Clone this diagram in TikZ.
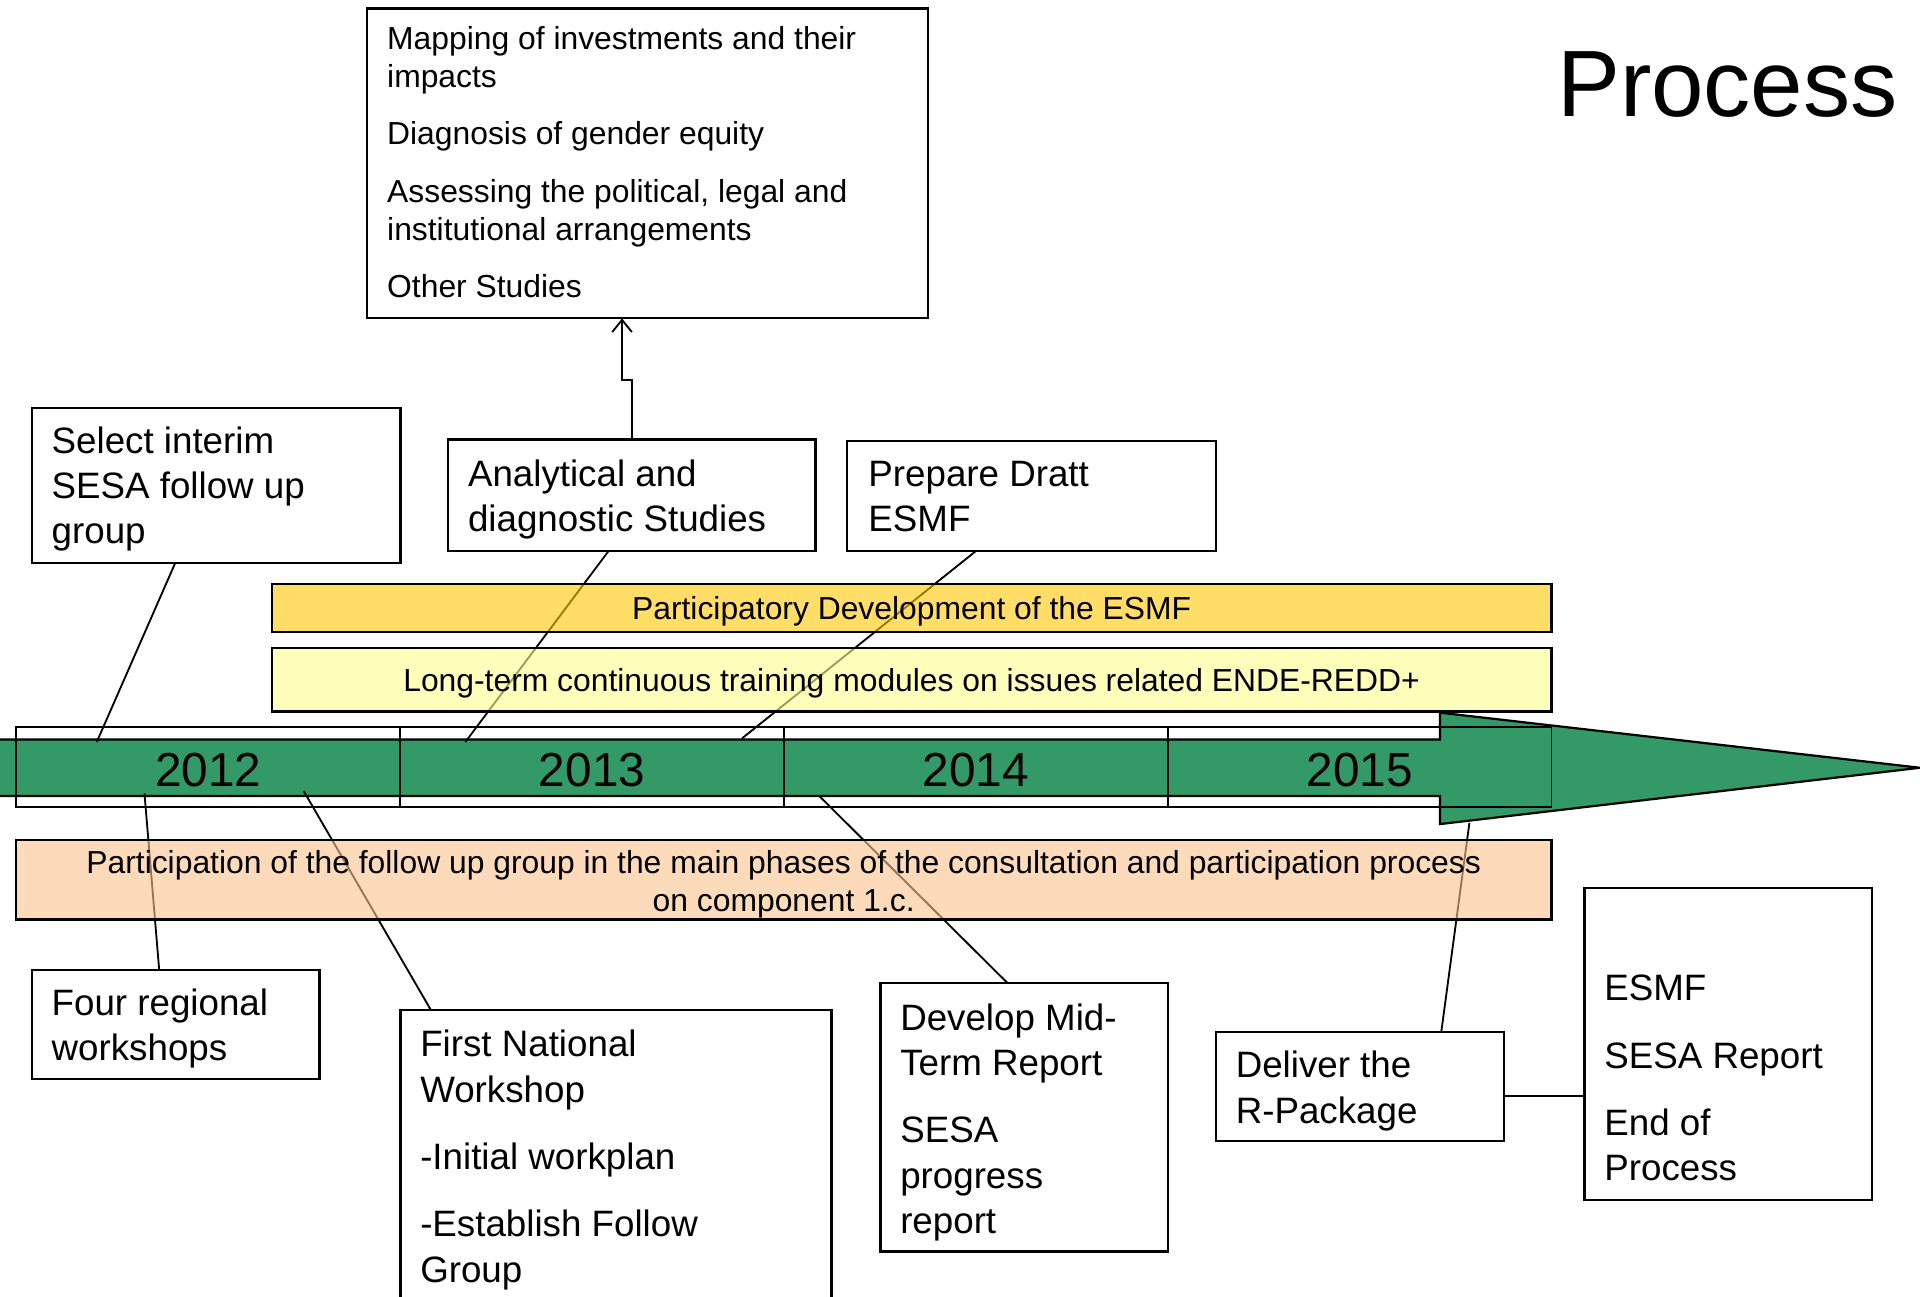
\documentclass[tikz,border=0pt]{standalone}
\usepackage{fontspec}
\setmainfont{Liberation Sans}
\usetikzlibrary{arrows.meta,calc}
\definecolor{arrowgreen}{RGB}{51,153,102}
\definecolor{barGold}{RGB}{255,198,0}
\definecolor{barYellow}{RGB}{255,255,142}
\definecolor{barPeach}{RGB}{251,193,138}
\begin{document}
\begin{tikzpicture}[x=1pt,y=-1pt,
  box/.style={draw=black, line width=1.8pt, fill=white, inner sep=0pt, outer sep=0pt, anchor=north west},
  bar/.style={draw=black, line width=1.8pt, fill opacity=0.6, draw opacity=1, inner sep=0pt, outer sep=0pt, anchor=north west},
  txtA/.style={inner sep=0pt, anchor=north west, align=left, font=\fontsize{30}{37}\selectfont},
  txtB/.style={inner sep=0pt, anchor=north west, align=left, font=\fontsize{26}{31}\selectfont},
  bartxt/.style={inner sep=0pt, anchor=base, align=center, font=\fontsize{26}{31}\selectfont},
  yeartxt/.style={inner sep=0pt, anchor=base, font=\fontsize{39}{45}\selectfont},
  yearbox/.style={draw=black, line width=1.5pt, inner sep=0pt, outer sep=0pt, anchor=north west, minimum height=65pt},
  conn/.style={draw=black, line width=1.5pt}]
\useasboundingbox (0,0) rectangle (1568,1059);
\clip (0,0) rectangle (1568,1059);

% title
\node[inner sep=0pt, anchor=base east, font=\fontsize{77}{90}\selectfont] (title) at (1550,95) {Process};

% green timeline arrow
\draw[fill=arrowgreen, draw=black, line width=1.8pt]
  (-5,604) -- (1176,604) -- (1176,582) -- (1568,627) -- (1176,673) -- (1176,650) -- (-5,650) -- cycle;
\node[yearbox, minimum width=314pt] (y12) at (13,594) {};
\node[yearbox, minimum width=313pt] (y13) at (327,594) {};
\node[yearbox, minimum width=314pt] (y14) at (640,594) {};
\node[yearbox, minimum width=313pt] (y15) at (954,594) {};
\node[yeartxt] (t12) at (170,642) {2012};
\node[yeartxt] (t13) at (483.5,642) {2013};
\node[yeartxt] (t14) at (797,642) {2014};
\node[yeartxt] (t15) at (1110.5,642) {2015};

% anchor points on the timeline
\coordinate (p1) at (79,606);
\coordinate (p2) at (380,606);
\coordinate (p3) at (606,603);
\coordinate (q1) at (118,648);
\coordinate (q2) at (248,646);
\coordinate (q3) at (669,650);
\coordinate (q4) at (1200,672);

% boxes
\node[box, minimum width=458pt, minimum height=253pt] (mapbox) at (300,7) {};
\node[box, minimum width=301pt, minimum height=127pt] (sel) at (26,333) {};
\node[box, minimum width=300pt, minimum height=91pt] (ana) at (366,359) {};
\node[box, minimum width=301pt, minimum height=90pt] (prep) at (692,360) {};
\node[box, minimum width=235pt, minimum height=89pt] (four) at (26,792) {};
\node[box, minimum width=352pt, minimum height=260pt] (first) at (327,825) {};
\node[box, minimum width=235pt, minimum height=219pt] (dev) at (719,803) {};
\node[box, minimum width=235pt, minimum height=89pt] (deliv) at (993,843) {};
\node[box, minimum width=235pt, minimum height=255pt] (esmf) at (1294,725) {};

% texts
\node[txtB] (mapt) at (316,18.3) {\strut Mapping of investments and their\\impacts\\[16pt]Diagnosis of gender equity\\[16pt]Assessing the political, legal and\\institutional arrangements\\[16pt]Other Studies};
\node[txtA] (selt) at (42,344.1) {\strut Select interim\\SESA follow up\\group};
\node[txtA] (anat) at (382,371.1) {\strut Analytical and\\diagnostic Studies};
\node[txtA] (prept) at (709,371.1) {\strut Prepare Dratt\\ESMF};
\node[txtA] (fourt) at (42,803.1) {\strut Four regional\\workshops};
\node[txtA] (firstt) at (343,837.1) {\strut First National\\Workshop\\[18pt]-Initial workplan\\[18pt]-Establish Follow\\Group};
\node[txtA] (devt) at (735,815.1) {\strut Develop Mid-\\Term Report\\[18pt]SESA\\progress\\report};
\node[txtA] (delivt) at (1009,854.1) {\strut Deliver the\\R-Package};
\node[txtA] (esmft) at (1310,791.1) {\strut ESMF\\[18pt]SESA Report\\[18pt]End of\\Process};

% connectors
\draw[conn] ($(sel.south west)+(117,0)$) -- (p1);
\draw[conn] ($(ana.south west)+(131,0)$) -- (p2);
\draw[conn] ($(prep.south west)+(105,0)$) -- (p3);
\draw[conn] (q1) -- ($(four.north west)+(104,0)$);
\draw[conn] (q2) -- ($(first.north west)+(25,0)$);
\draw[conn] (q3) -- ($(dev.north west)+(104,0)$);
\draw[conn] (q4) -- ($(deliv.north west)+(184,0)$);
\draw[conn] ($(deliv.south east)+(0,-37)$) -- ($(esmf.north west)+(0,170)$);
\draw[conn, -{Straight Barb[length=10pt,width=16pt]}]
  ($(ana.north west)+(150,0)$) -- ++(0,-49) -| ($(mapbox.south west)+(208,0)$);

% semi-transparent bars
\node[bar, fill=barGold, minimum width=1045pt, minimum height=39pt] (gold) at (222,477) {};
\node[bar, fill=barYellow, minimum width=1045pt, minimum height=52pt] (train) at (222,529) {};
\node[bar, fill=barPeach, minimum width=1254pt, minimum height=65pt] (peach) at (13,686) {};
\node[bartxt] (goldt) at (744.5,506) {Participatory Development of the ESMF};
\node[bartxt] (traint) at (744.5,565) {Long-term continuous training modules on issues related ENDE-REDD+};
\node[bartxt] (peacht1) at (640,713) {Participation of the follow up group in the main phases of the consultation and participation process};
\node[bartxt] (peacht2) at (640,744) {on component 1.c.};
\end{tikzpicture}
\end{document}
